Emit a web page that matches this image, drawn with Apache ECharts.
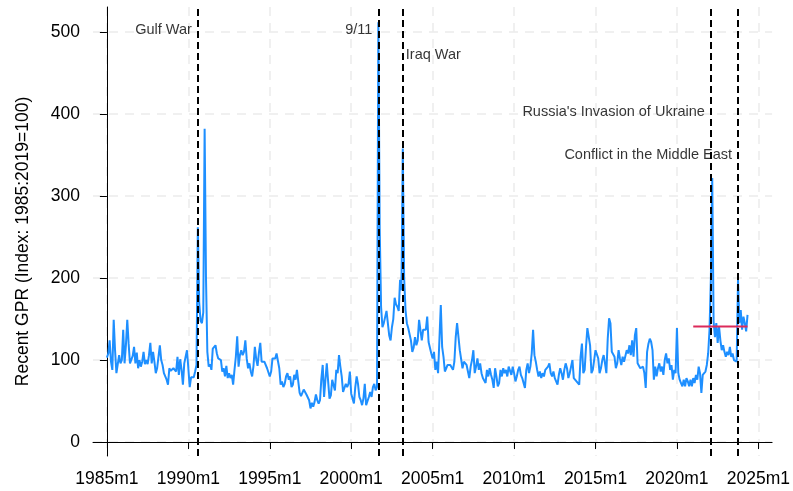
<!DOCTYPE html>
<html>
<head>
<meta charset="utf-8">
<script src="https://cdn.jsdelivr.net/npm/echarts@6/dist/echarts.min.js"></script>
<style>
  html, body { margin: 0; padding: 0; background: #fff; }
  #chart { width: 793px; height: 491px; }
</style>
</head>
<body>
<div id="chart"></div>
<script>
// monthly Recent GPR index, one row per year (Jan..Dec), starts 1985m1
const START_YEAR = 1985;
const gpr1985_1994 = [
  103, 108, 124, 98, 88, 149, 112, 84, 95, 106, 96, 100,
  137, 96, 118, 149, 120, 96, 94, 105, 116, 96, 109, 90,
  100, 92, 98, 110, 95, 100, 95, 106, 121, 96, 110, 98,
  84, 90, 88, 118, 100, 94, 84, 82, 76, 70, 90, 87,
  88, 90, 92, 86, 104, 82, 101, 88, 70, 96, 104, 112,
  90, 67, 79, 81, 79, 86, 94, 262, 170, 148, 145, 158,
  382, 200, 110, 92, 95, 88, 114, 116, 118, 108, 102, 104,
  100, 86, 90, 80, 93, 78, 84, 78, 82, 70, 88, 104,
  129, 92, 106, 112, 106, 110, 124, 102, 90, 96, 86, 80,
  93, 116, 101, 93, 109, 121, 98, 100, 98, 98, 90, 92
];
const gpr1995_2004 = [
  80, 86, 102, 104, 102, 108, 106, 90, 70, 74, 67, 71,
  80, 84, 76, 80, 67, 70, 82, 76, 88, 86, 60, 56,
  58, 64, 66, 58, 60, 51, 41, 48, 43, 49, 58, 51,
  47, 51, 77, 94, 55, 76, 96, 74, 53, 57, 76, 78,
  63, 88, 84, 106, 92, 80, 61, 63, 71, 67, 71, 86,
  59, 57, 47, 67, 80, 71, 55, 51, 45, 53, 71, 45,
  47, 55, 61, 55, 67, 71, 63, 67, 512, 260, 165, 140,
  145, 147, 160, 158, 130, 124, 140, 150, 176, 168, 165, 160,
  198, 185, 358, 200, 161, 145, 139, 138, 124, 110, 115, 128,
  118, 124, 149, 149, 124, 137, 135, 137, 153, 122, 124, 108
];
const gpr2005_2014 = [
  102, 110, 88, 98, 84, 82, 167, 116, 104, 86, 90, 94,
  96, 94, 92, 88, 98, 128, 145, 147, 112, 112, 90, 98,
  96, 94, 86, 78, 92, 100, 112, 84, 92, 102, 88, 96,
  84, 78, 76, 72, 88, 80, 90, 82, 76, 66, 90, 80,
  68, 72, 88, 80, 90, 84, 88, 80, 92, 90, 82, 92,
  84, 74, 80, 88, 92, 82, 78, 72, 66, 88, 96, 84,
  92, 108, 137, 106, 98, 88, 80, 86, 78, 84, 80, 88,
  86, 92, 96, 84, 80, 86, 78, 76, 70, 82, 90, 84,
  76, 88, 96, 90, 78, 84, 92, 100, 78, 76, 74, 76,
  70, 104, 120, 84, 88, 116, 139, 137, 118, 84, 88, 100
];
const gpr2015_2024 = [
  112, 110, 102, 84, 90, 100, 106, 96, 84, 126, 151, 145,
  110, 112, 104, 90, 96, 112, 102, 94, 104, 98, 100, 112,
  108, 118, 106, 124, 104, 130, 139, 96, 94, 90, 92, 92,
  84, 66, 110, 120, 126, 122, 112, 76, 92, 80, 90, 96,
  86, 92, 82, 100, 108, 96, 102, 88, 94, 76, 88, 84,
  139, 84, 76, 72, 68, 76, 68, 78, 74, 68, 76, 68,
  78, 72, 82, 76, 92, 84, 60, 82, 80, 86, 94, 108,
  137, 200, 322, 147, 128, 145, 121, 141, 124, 112, 118, 110,
  104, 110, 106, 116, 104, 108, 100, 102, 98, 198, 145, 161,
  137, 153, 145, 135, 155
];

// events: [year, month]
const eventNames = ['Gulf War', '9/11', 'Iraq War', "Russia's Invasion of Ukraine", 'Conflict in the Middle East'];
const eventDates = [[1990, 8], [2001, 9], [2003, 3], [2022, 2], [2023, 10]];
const eventLabelY = [502, 502, 472, 402, 350];
const eventLabelSide = ['left', 'left', 'right', 'left', 'left'];

// red reference segment
const avgFrom = [2021, 1];
const avgTo = [2024, 5];
const avgLevel = 141;

const yTicks = [0, 100, 200, 300, 400, 500];
const xTickYears = [1985, 1990, 1995, 2000, 2005, 2010, 2015, 2020, 2025];

function monthIdx(y, m) { return (y - START_YEAR) * 12 + (m - 1); }

const gpr = gpr1985_1994.concat(gpr1995_2004, gpr2005_2014, gpr2015_2024);
const lineData = gpr.map((v, i) => [i, v]);
const xTicks = xTickYears.map(y => monthIdx(y, 1));
const eventX = eventDates.map(d => monthIdx(d[0], d[1]));

const FONT = "'Liberation Sans', Arial, sans-serif";
const gridLine = { show: true, lineStyle: { color: '#ebebeb', width: 1.5, type: [9, 7] } };

const chart = echarts.init(document.getElementById('chart'));
chart.setOption({
  animation: false,
  backgroundColor: '#fff',
  textStyle: { fontFamily: FONT },
  grid: { left: 93, right: 17, top: 7, bottom: 35, containLabel: false },
  xAxis: {
    type: 'value',
    min: -10.25,
    max: 490.1,
    axisLine: { lineStyle: { color: '#000', width: 1 } },
    axisTick: { show: true, customValues: xTicks, length: 7, lineStyle: { color: '#000' } },
    axisLabel: {
      customValues: xTicks, color: '#000', fontSize: 17.5, fontFamily: FONT, margin: 14,
      formatter: v => (START_YEAR + Math.round(v / 12)) + 'm1'
    },
    splitLine: gridLine
  },
  yAxis: {
    type: 'value',
    min: -17,
    max: 530.5,
    name: 'Recent GPR (Index: 1985:2019=100)',
    nameLocation: 'middle',
    nameGap: 61,
    nameTextStyle: { color: '#000', fontSize: 17.5, fontFamily: FONT, padding: [0, 20, 0, 0] },
    axisLine: { show: true, lineStyle: { color: '#000', width: 1 } },
    axisTick: { show: true, customValues: yTicks, length: 7, lineStyle: { color: '#000' } },
    axisLabel: { customValues: yTicks, color: '#000', fontSize: 17.5, fontFamily: FONT, margin: 13 },
    splitLine: gridLine
  },
  series: [
    {
      type: 'line',
      data: lineData,
      showSymbol: false,
      z: 3,
      lineStyle: { color: '#1e8fff', width: 2 },
      itemStyle: { color: '#1e8fff' },
      markLine: {
        silent: true,
        symbol: 'none',
        label: { show: false },
        lineStyle: { color: '#000', width: 2, type: [7, 4] },
        data: eventX.map(x => ({ xAxis: x }))
      }
    },
    {
      type: 'line',
      data: [[monthIdx(avgFrom[0], avgFrom[1]), avgLevel], [monthIdx(avgTo[0], avgTo[1]), avgLevel]],
      showSymbol: false,
      z: 4,
      lineStyle: { color: '#dc2a5a', width: 2 }
    },
    {
      type: 'scatter',
      symbolSize: 0,
      z: 5,
      data: eventX.map((x, i) => ({
        value: [x, eventLabelY[i]],
        label: {
          show: true,
          formatter: eventNames[i],
          position: eventLabelSide[i],
          distance: eventLabelSide[i] === 'left' ? 6 : 3,
          color: '#000',
          fontSize: 14.5,
          fontFamily: FONT
        }
      }))
    }
  ]
});
</script>
</body>
</html>
